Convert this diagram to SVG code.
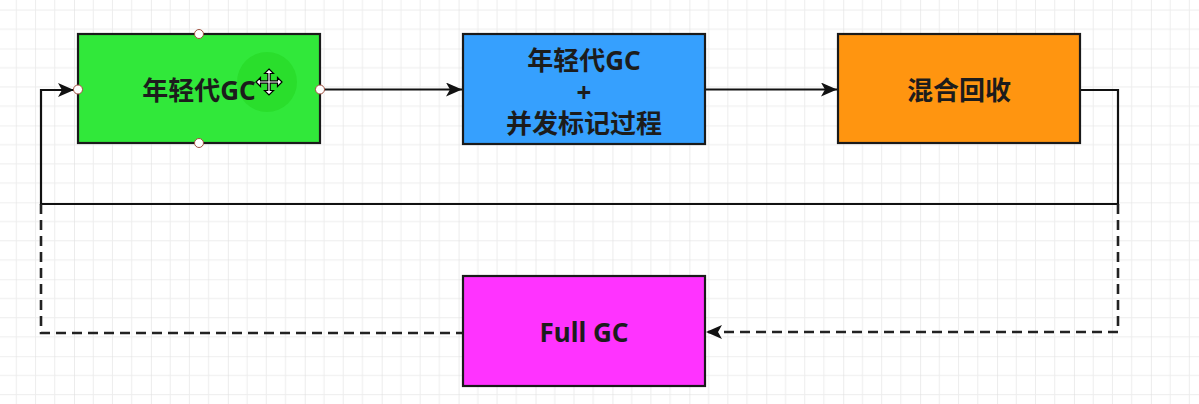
<svg xmlns="http://www.w3.org/2000/svg" width="1199" height="404" viewBox="0 0 1199 404">
  <defs>
    <pattern id="grid" patternUnits="userSpaceOnUse" x="-2.92" y="48.5" width="76.92" height="76.92">
      <path d="M19.23,0 V76.92 M38.46,0 V76.92 M57.69,0 V76.92 M0,19.23 H76.92 M0,38.46 H76.92 M0,57.69 H76.92" stroke="#ededed" stroke-width="1" fill="none"/>
      <path d="M0,0 V76.92 M0,0 H76.92" stroke="#e0e0e0" stroke-width="1.2" fill="none"/>
    </pattern>
    <marker id="arrow" markerUnits="userSpaceOnUse" markerWidth="18" markerHeight="16" refX="16" refY="7" orient="auto">
      <path d="M0,0 L16,7 L0,14 L4,7 Z" fill="#111"/>
    </marker>
    <style>
      .box { stroke: #1a1a1a; stroke-width: 2.2; }
      .lbl { font-family: "Noto Sans", "Noto Sans CJK SC", sans-serif; font-weight: bold; font-size: 26px; fill: #1c1c1c; text-anchor: middle; dominant-baseline: central; }
      .edge { fill: none; stroke: #111; stroke-width: 2.2; }
      .dash { stroke-dasharray: 10 6; stroke: #222; stroke-width: 2.6; }
      .handle { fill: #fff; stroke: #a0503f; stroke-width: 1; }
    </style>
  </defs>
  <rect width="1199" height="404" fill="#fff"/>
  <rect width="1199" height="404" fill="url(#grid)"/>

  <g id="connectors">
    <path class="edge" d="M320,89.5 L462,89.5" marker-end="url(#arrow)"/>
    <path class="edge" d="M705,89.5 L837,89.5" marker-end="url(#arrow)"/>
    <path class="edge" d="M1080,90 L1118,90 L1118,204 L41,204 L41,90 L74,90" marker-end="url(#arrow)"/>
    <path class="edge dash" d="M41,204 L41,333 L463,333"/>
    <path class="edge dash" d="M1118,204 L1118,332 L706,332" marker-end="url(#arrow)"/>
  </g>

  <g id="young-gc">
    <rect class="box" x="78" y="34" width="242" height="109" fill="#31e83a"/>
    <circle cx="267" cy="82" r="30" fill="#2ade2c"/>
    <text class="lbl" x="199" y="89.5">年轻代GC</text>
    <path d="M0,-13 L4.5,-8.5 L1.2,-8.5 L1.2,-1.2 L8.5,-1.2 L8.5,-4.5 L13,0 L8.5,4.5 L8.5,1.2 L1.2,1.2 L1.2,8.5 L4.5,8.5 L0,13 L-4.5,8.5 L-1.2,8.5 L-1.2,1.2 L-8.5,1.2 L-8.5,4.5 L-13,0 L-8.5,-4.5 L-8.5,-1.2 L-1.2,-1.2 L-1.2,-8.5 L-4.5,-8.5 Z" transform="translate(269,82)" fill="#fff" stroke="#000" stroke-width="1.2"/>
    <circle class="handle" cx="199" cy="34" r="4.5"/>
    <circle class="handle" cx="78" cy="89.5" r="4.5"/>
    <circle class="handle" cx="320" cy="89.5" r="4.5"/>
    <circle class="handle" cx="199" cy="143" r="4.5"/>
  </g>

  <g id="young-gc-concurrent-mark">
    <rect class="box" x="463" y="34" width="242" height="110" fill="#36a0fe"/>
    <text class="lbl" x="584" y="60">年轻代GC</text>
    <text class="lbl" x="584" y="91.5">+</text>
    <text class="lbl" x="584" y="123">并发标记过程</text>
  </g>

  <g id="mixed-gc">
    <rect class="box" x="838" y="34" width="242" height="109" fill="#ff9510"/>
    <text class="lbl" x="959" y="89.5">混合回收</text>
  </g>

  <g id="full-gc">
    <rect class="box" x="463" y="276" width="242" height="110" fill="#ff33ff"/>
    <text class="lbl" x="584" y="332">Full GC</text>
  </g>
</svg>
